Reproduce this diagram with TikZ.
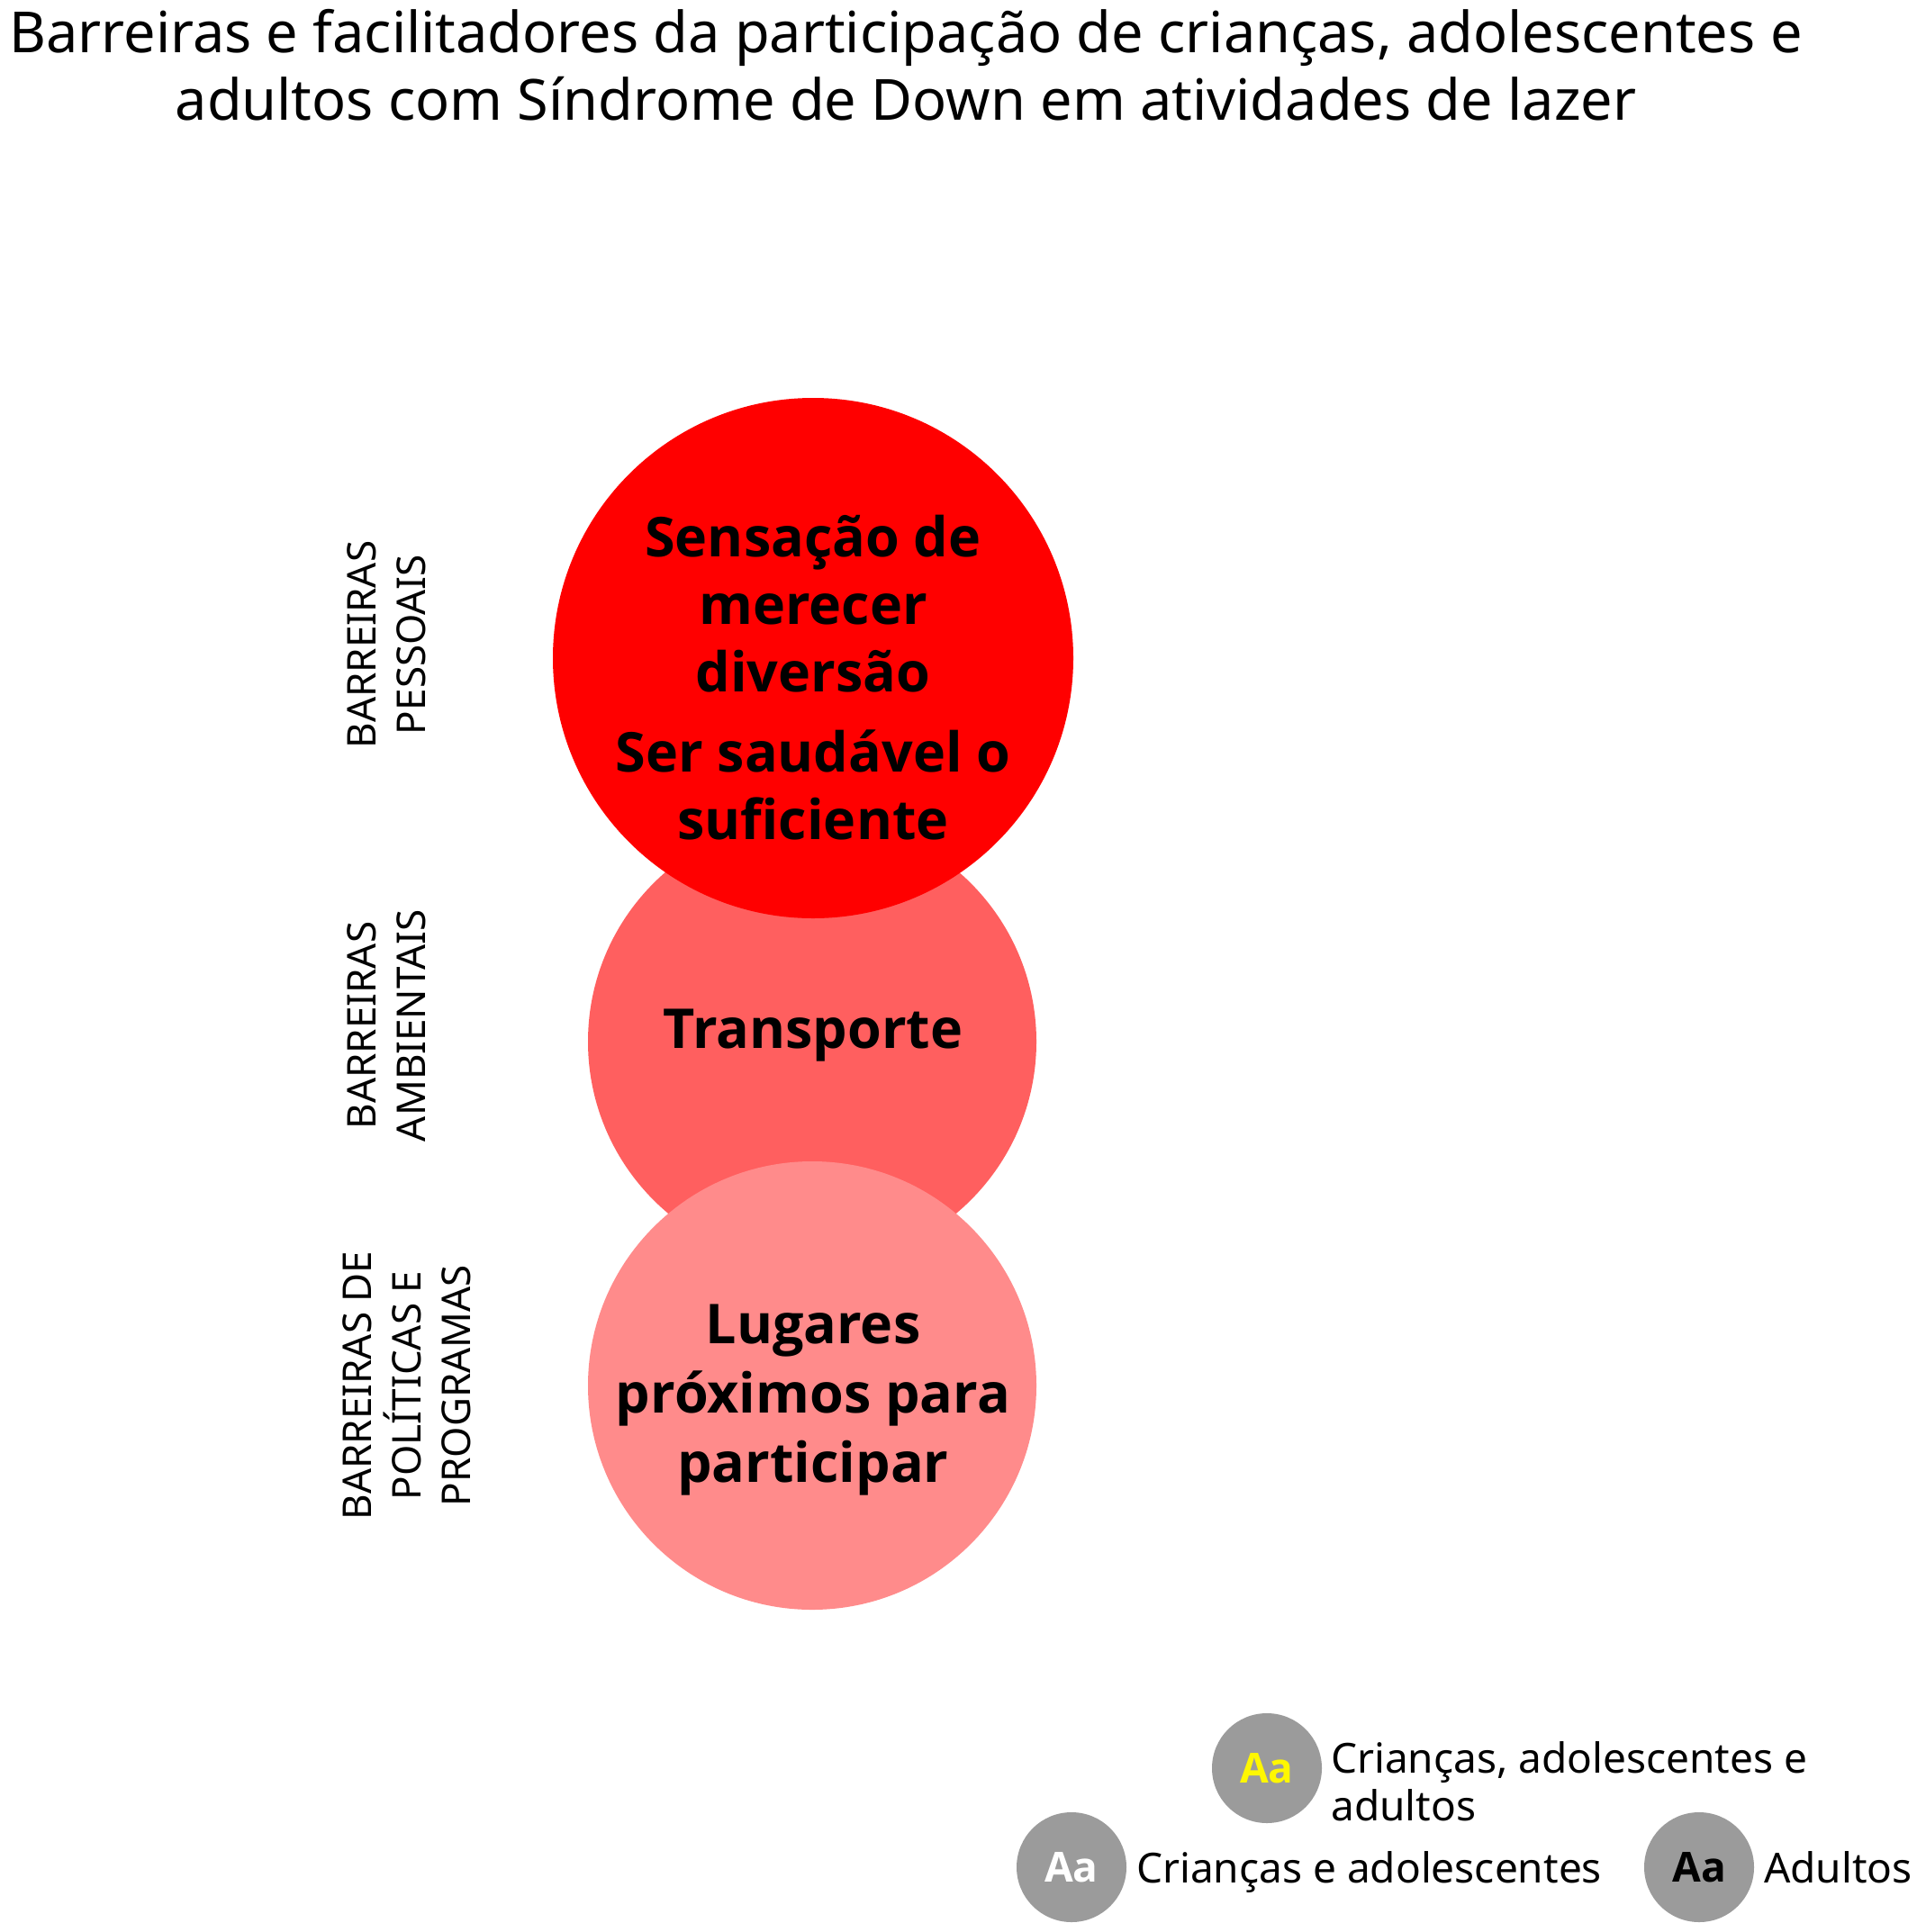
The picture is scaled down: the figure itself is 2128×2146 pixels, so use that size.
\documentclass[tikz,border=0pt]{standalone}
\usepackage{fontspec}
\setmainfont{Noto Sans}
\newfontfamily\boldfam{Open Sans}
\definecolor{redA}{HTML}{FF0000}
\definecolor{redB}{HTML}{FF5F5F}
\definecolor{redC}{HTML}{FF8B8B}
\definecolor{legGray}{HTML}{9B9B9B}
\definecolor{aaYellow}{HTML}{FFF700}
\tikzset{
  bubble/.style={circle, inner sep=0pt, draw=none},
  bubtext/.style={align=center, inner sep=0pt, text=black, font=\boldfam\bfseries\fontsize{61}{75}\selectfont},
  sidelabel/.style={rotate=90, anchor=north, align=center, inner sep=0pt, font=\fontsize{44}{55}\selectfont},
  legdot/.style={circle, fill=legGray, minimum size=122pt, inner sep=0pt, font=\boldfam\bfseries\fontsize{46}{50}\selectfont},
  legtext/.style={anchor=base west, align=left, inner sep=0pt, font=\fontsize{46}{53}\selectfont},
  titletext/.style={align=center, inner sep=0pt, font=\fontsize{63}{75}\selectfont}
}
\begin{document}
\begin{tikzpicture}[x=1pt,y=-1pt]
\useasboundingbox (0,0) rectangle (2128,2146);
\fill[white] (0,0) rectangle (2128,2146);
% title
\node[titletext] (title) at (1006,72) {Barreiras e facilitadores da participação de crianças, adolescentes e\\adultos com Síndrome de Down em atividades de lazer};
% circles
\node[bubble, fill=redB, minimum size=498pt] (amb) at (902,1157) {};
\node[bubble, fill=redA, minimum size=578pt] (pes) at (903,731) {};
\node[bubble, fill=redC, minimum size=498pt] (pol) at (902,1539) {};
% circle texts
\node[bubtext] (pestext) at (903,753) {Sensação de\\merecer\\diversão\\[14pt]Ser saudável o\\suficiente};
\node[bubtext] (ambtext) at (903,1150) {Transporte};
\node[bubtext, font=\boldfam\bfseries\fontsize{61}{77}\selectfont] (poltext) at (903,1555) {Lugares\\próximos para\\participar};
% side labels
\node[sidelabel] (lpes) at (385,716) {BARREIRAS\\PESSOAIS};
\node[sidelabel] (lamb) at (385,1139) {BARREIRAS\\AMBIENTAIS};
\node[sidelabel] (lpol) at (380,1539) {BARREIRAS DE\\POLÍTICAS E\\PROGRAMAS};
% legend
\node[legdot, text=aaYellow] (dotall) at (1407,1964) {Aa};
\node[legtext] (txtall) at (1478,2022) {Crianças, adolescentes e\\adultos};
\node[legdot, text=white] (dotkid) at (1190,2074) {Aa};
\node[legtext] (txtkid) at (1262,2091) {Crianças e adolescentes};
\node[legdot, text=black] (dotad) at (1887,2074) {Aa};
\node[legtext] (txtad) at (1959,2091) {Adultos};
\end{tikzpicture}
\end{document}
